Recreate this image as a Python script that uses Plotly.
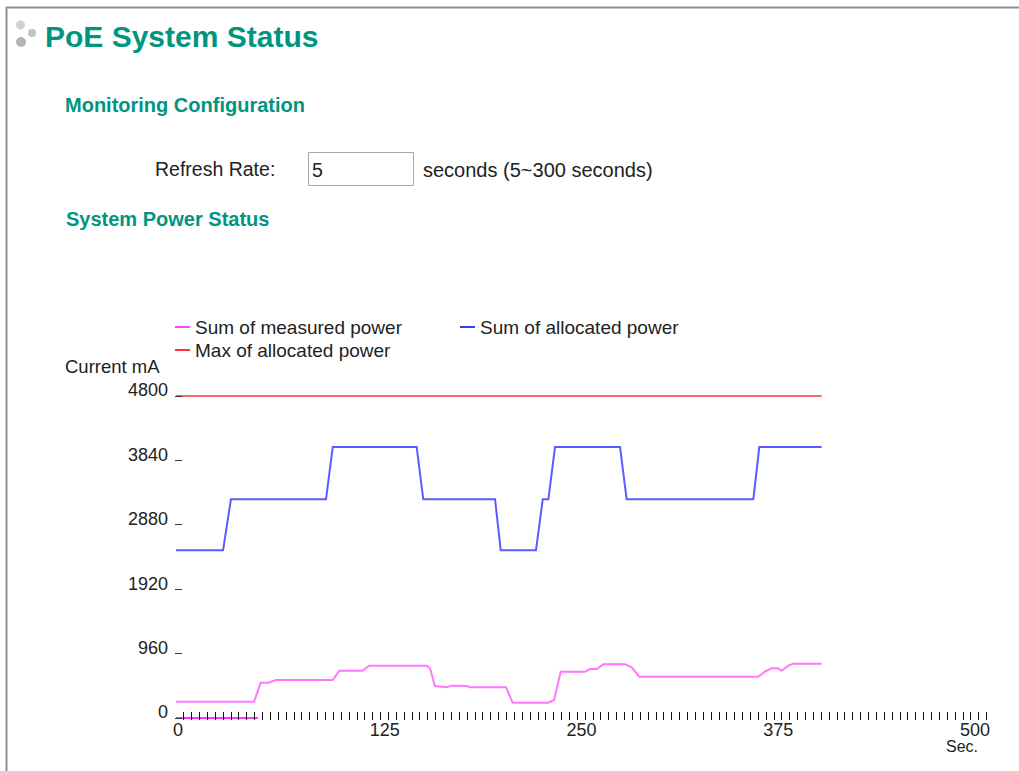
import plotly.graph_objects as go

# ---------------- data ----------------
time_measured = [0, 49.6, 53.8, 58.6, 63.5, 99.6, 103.7, 118.6, 122.6, 159.3,
                 161.4, 164.5, 172.0, 175.2, 184.7, 186.8, 209.7, 213.9, 236.5, 240.2,
                 244.4, 259.8, 263.0, 267.3, 271.5, 285.3, 289.5, 294.3, 369.9, 374.1,
                 378.4, 382.6, 384.7, 389.0, 392.2, 410.2]
sum_measured = [243, 243, 526, 526, 566, 566, 705, 705, 780, 780,
                741, 477, 458, 482, 477, 458, 458, 228, 228, 268,
                690, 690, 730, 730, 800, 800, 756, 616, 616, 690,
                741, 741, 705, 780, 810, 810]

time_alloc = [0, 29.9, 34.9, 95.3, 99.6, 152.9, 157.1, 202.7, 206.3, 228.7,
              233.0, 236.6, 240.8, 282.1, 286.3, 366.8, 370.6, 410.2]
sum_alloc = [2500, 2500, 3260, 3260, 4040, 4040, 3260, 3260, 2500, 2500,
             3260, 3260, 4040, 4040, 3260, 3260, 4040, 4040]

time_max = [0, 410.2]
max_alloc = [4800, 4800]

time_zero = [0, 52]
zero_seg = [0, 0]

x_tick_vals = [0, 125, 250, 375, 500]
x_tick_text = ["0\u00a0\u00a0\u00a0\u00a0", "125", "250", "375", "500"]
y_tick_vals = [0, 960, 1920, 2880, 3840, 4800]
y_tick_text = ["0", "960", "1920", "2880", "3840", "4800"]

series_names = ["Sum of measured power", "Sum of allocated power", "Max of allocated power"]
series_colors = ["#ff77ff", "#5b5bff", "#ff6666"]
legend_colors = ["#ff44ff", "#3a3aff", "#ff3333"]

# ---------------- layout helpers (page pixel coords) ----------------
W, H = 1019, 771
L, R, T, B = 175, 990, 390, 720   # plot area in page pixels
FONT = "Liberation Sans, Arial, Helvetica, sans-serif"
TEAL = "#00957f"


def px(x):
    return (x - L) / (R - L)


def py(y):
    return (B - y) / (B - T)


fig = go.Figure()
fig.add_trace(go.Scatter(x=time_max, y=max_alloc, mode="lines", name=series_names[2],
                         line=dict(color=series_colors[2], width=2), showlegend=False))
fig.add_trace(go.Scatter(x=time_alloc, y=sum_alloc, mode="lines", name=series_names[1],
                         line=dict(color=series_colors[1], width=2), showlegend=False))
fig.add_trace(go.Scatter(x=time_measured, y=sum_measured, mode="lines", name=series_names[0],
                         line=dict(color=series_colors[0], width=2), showlegend=False))
fig.add_trace(go.Scatter(x=time_zero, y=zero_seg, mode="lines", name="",
                         line=dict(color="#ff33ff", width=2), showlegend=False,
                         hoverinfo="skip"))

x_span = (R - L) / 1.574
x_start = -(176 - L) / 1.574
fig.update_xaxes(range=[x_start, x_start + x_span], showgrid=False, zeroline=False,
                 showline=False, tickmode="array", tickvals=x_tick_vals, ticktext=x_tick_text,
                 ticks="inside", ticklen=8, tickwidth=1.2, tickcolor="#111",
                 ticklabelshift=12, ticklabelstandoff=-3,
                 minor=dict(dtick=5, tick0=0, ticks="inside", ticklen=8, tickwidth=1.2,
                            tickcolor="#111"),
                 tickfont=dict(family=FONT, size=18, color="#222"))
y_per_px = 4800 / (718 - 396)
fig.update_yaxes(range=[-(720 - 718) * y_per_px, 4800 + (396 - 390) * y_per_px],
                 showgrid=False, zeroline=False, showline=False,
                 tickmode="array", tickvals=y_tick_vals, ticktext=y_tick_text,
                 ticks="inside", ticklen=7, tickwidth=1.2, tickcolor="#333",
                 ticklabelshift=-6, ticklabelstandoff=6,
                 tickfont=dict(family=FONT, size=18, color="#222"))

shapes = []
annotations = []

# page frame
shapes.append(dict(type="line", xref="paper", yref="paper", x0=px(6), x1=px(1019),
                   y0=py(7.5), y1=py(7.5), line=dict(color="#909090", width=2)))
shapes.append(dict(type="line", xref="paper", yref="paper", x0=px(6.5), x1=px(6.5),
                   y0=py(7), y1=py(771), line=dict(color="#909090", width=2)))

# title icon dots
for cx, cy, r, col in [(20.5, 25, 4.5, "#d0d0d0"), (32, 33, 4, "#c2c2c2"), (21, 42, 5, "#b4b4b4")]:
    shapes.append(dict(type="circle", xref="paper", yref="paper",
                       x0=px(cx - r), x1=px(cx + r), y0=py(cy + r), y1=py(cy - r),
                       fillcolor=col, line=dict(width=0)))

# input box
shapes.append(dict(type="rect", xref="paper", yref="paper", x0=px(308.5), x1=px(413.5),
                   y0=py(185.5), y1=py(152.5), fillcolor="white",
                   line=dict(color="#a8a8a8", width=1)))


def text(x, y, s, size, color="#222", bold=False, xanchor="left"):
    annotations.append(dict(xref="paper", yref="paper", x=px(x), y=py(y),
                            text=f"<b>{s}</b>" if bold else s, showarrow=False,
                            xanchor=xanchor, yanchor="middle", borderpad=0,
                            font=dict(family=FONT, size=size, color=color)))


text(44, 36, "PoE System Status", 30, TEAL, bold=True)
text(64, 105, "Monitoring Configuration", 20, TEAL, bold=True)
text(154, 169, "Refresh Rate:", 19.5)
text(311, 170, "5", 19.5)
text(422, 170, "seconds (5~300 seconds)", 20)
text(65, 219, "System Power Status", 20, TEAL, bold=True)
text(64, 366, "Current mA", 18.5)
text(979, 746, "Sec.", 16, xanchor="right")

# legend (drawn by hand to match the original widget)
legend_pos = [(175, 327), (460, 327), (175, 350)]
for (lx, ly), name, col in zip(legend_pos, series_names, legend_colors):
    shapes.append(dict(type="line", xref="paper", yref="paper", x0=px(lx), x1=px(lx + 15),
                       y0=py(ly), y1=py(ly), line=dict(color=col, width=2)))
    text(lx + 19, ly, name, 19)

fig.update_layout(width=W, height=H,
                  margin=dict(l=L, r=W - R, t=T, b=H - B),
                  paper_bgcolor="white", plot_bgcolor="white",
                  shapes=shapes, annotations=annotations, showlegend=False,
                  font=dict(family=FONT))
fig.write_html("out.html", config={"displayModeBar": False},
               post_script="document.body.style.margin='0';document.body.style.overflow='hidden';")
